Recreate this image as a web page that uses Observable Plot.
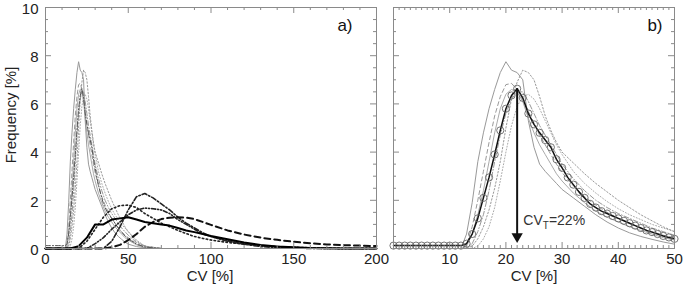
<!DOCTYPE html>
<html><head><meta charset="utf-8">
<script src="https://cdn.jsdelivr.net/npm/d3@7"></script>
<script src="https://cdn.jsdelivr.net/npm/@observablehq/plot@0.6"></script>
<style>
body{margin:0;background:#fff;}
#wrap{position:relative;width:685px;height:286px;font-family:"Liberation Sans",Arial,sans-serif;overflow:hidden;}
#wrap svg{position:absolute;top:0;}
.lab{position:absolute;font-size:15px;color:#222;white-space:nowrap;line-height:1;}
</style></head><body><div id="wrap"></div>
<script>
// ---------- data ----------
// grid of CV values (%) for the narrow-peak (gray) group
const gridG = [0,10,12,13,14,15,16,17,18,19,20,21,22,23,24,25,26,27,28,29,30,32,34,36,38,40,42,44,46,48,50,55,60,70];
const graySolidA  = [0,0,0,0.6,1.9,3.6,4.8,5.8,6.6,7.3,7.75,7.4,7.3,7.0,5.3,4.2,3.5,3.2,2.95,2.7,2.45,2.1,1.75,1.4,1.1,0.85,0.65,0.5,0.38,0.27,0.18,0.08,0.03,0];
const grayDottedB = [0,0,0,0,0.1,0.4,0.9,1.6,2.5,3.6,5.0,6.2,6.9,7.4,7.3,7.0,6.3,5.5,4.9,4.4,4.0,3.55,3.1,2.7,2.35,2.0,1.7,1.4,1.15,0.9,0.7,0.3,0.1,0];
const grayDashedC = [0,0,0,0.15,0.9,2.0,3.2,4.4,5.5,6.3,6.8,6.85,6.6,6.2,5.7,5.2,4.7,4.3,3.9,3.5,3.15,2.6,2.15,1.8,1.5,1.25,1.05,0.85,0.7,0.55,0.45,0.2,0.08,0];
const grayDashDotD = [0,0,0,0,0.2,0.7,1.4,2.4,3.6,4.7,5.6,6.2,6.5,6.5,6.1,5.6,5.1,4.7,4.3,3.9,3.5,2.9,2.4,2.0,1.7,1.45,1.25,1.05,0.85,0.7,0.55,0.25,0.1,0];
const grayDottedE = [0,0,0,0,0,0.1,0.4,0.9,1.7,2.8,4.0,5.1,5.9,6.3,6.4,6.2,5.8,5.3,4.8,4.3,3.9,3.2,2.7,2.3,1.95,1.65,1.4,1.2,1.0,0.85,0.7,0.35,0.1,0];
const graySolidF  = [0,0,0,0.1,0.6,1.4,2.4,3.6,4.8,5.8,6.4,6.6,6.5,6.1,5.4,4.8,4.3,3.9,3.5,3.1,2.8,2.3,1.9,1.55,1.3,1.1,0.9,0.75,0.6,0.45,0.35,0.15,0.05,0];

// mean distribution (black line with circles in b)
const meanX = [0,1,2,3,4,5,6,7,8,9,10,11,12,13,14,15,16,17,18,19,20,21,22,23,24,25,26,27,28,29,30,31,32,33,34,35,36,37,38,39,40,41,42,43,44,45,46,47,48,49,50,55,60,70];
const meanY = [0.12,0.12,0.12,0.12,0.12,0.12,0.12,0.12,0.12,0.12,0.12,0.12,0.12,0.2,0.6,1.25,2.1,2.95,3.9,4.9,5.8,6.35,6.63,6.25,5.6,5.15,4.8,4.5,4.2,3.7,3.35,2.95,2.65,2.35,2.1,1.85,1.7,1.55,1.45,1.35,1.25,1.15,1.05,0.95,0.85,0.75,0.68,0.6,0.52,0.46,0.4,0.18,0.06,0];

// broad distributions (panel a)
const gridA = [0,10,15,20,25,30,35,40,45,50,55,60,65,70,75,80,85,90,95,100,110,120,130,140,150,160,170,180,190,200];
const blackSolid   = [0,0,0,0.1,0.45,1.0,1.0,1.2,1.25,1.3,1.2,1.1,1.05,1.0,0.95,0.85,0.75,0.68,0.6,0.52,0.38,0.25,0.15,0.08,0.05,0.02,0.01,0,0,0];
const blackDashDot = [0,0,0,0,0,0,0,0.3,0.9,1.6,2.15,2.28,2.1,1.85,1.6,1.3,1.05,0.85,0.65,0.5,0.3,0.18,0.08,0.04,0.02,0,0,0,0,0];
const blackDashDotDot = [0,0,0,0,0,0.2,0.45,0.8,1.1,1.4,1.6,1.68,1.65,1.6,1.45,1.2,1.0,0.8,0.6,0.5,0.32,0.2,0.12,0.07,0.04,0.02,0,0,0,0];
const blackDotted  = [0,0,0,0,0.3,0.8,1.3,1.65,1.78,1.8,1.7,1.45,1.25,1.05,0.9,0.75,0.62,0.5,0.42,0.35,0.25,0.18,0.12,0.08,0.05,0.03,0.02,0,0,0];
const blackDashed  = [0,0,0,0,0,0,0,0.05,0.15,0.35,0.6,0.9,1.1,1.22,1.28,1.3,1.28,1.22,1.1,0.98,0.75,0.58,0.45,0.36,0.28,0.22,0.17,0.14,0.12,0.1];

// axes / annotation
const yMajor = [0,2,4,6,8,10];
const yMinor = [0.5,1,1.5,2.5,3,3.5,4.5,5,5.5,6.5,7,7.5,8.5,9,9.5];
const xMajorA = [0,50,100,150,200];
const xMinorA = [10,20,30,40,60,70,80,90,110,120,130,140,160,170,180,190];
const xMajorB = [0,10,20,30,40,50];
const xLabelsB = [10,20,30,40,50];
const xMinorB = d3.range(1,50).filter(d => d % 10 !== 0);
const cvT = [22];
const arrowTip = [0.5];
const cvTLabel = {x: 23.1, y: 1.15, text: "CVT=22%"};

// ---------- helpers ----------
const rows = (xs, ys) => xs.map((x, i) => ({cv: x, v: ys[i]}));
const H = 286, MT = 7, MB = 38;
const innerH = H - MT - MB;
const FONT = "'Liberation Sans', Arial, Helvetica, sans-serif";

function tickMarks(xMaj, xMin, innerW) {
  const c = "#8a8a8a";
  return [
    Plot.tickX(xMaj, {x: d => d, insetTop: innerH - 6, stroke: c}),
    Plot.tickX(xMaj, {x: d => d, insetBottom: innerH - 6, stroke: c}),
    Plot.tickX(xMin, {x: d => d, insetTop: innerH - 3, stroke: c}),
    Plot.tickX(xMin, {x: d => d, insetBottom: innerH - 3, stroke: c}),
    Plot.tickY(yMajor, {y: d => d, insetRight: innerW - 6, stroke: c}),
    Plot.tickY(yMajor, {y: d => d, insetLeft: innerW - 6, stroke: c}),
    Plot.tickY(yMinor, {y: d => d, insetRight: innerW - 3, stroke: c}),
    Plot.tickY(yMinor, {y: d => d, insetLeft: innerW - 3, stroke: c}),
    Plot.frame({stroke: c, strokeWidth: 1})
  ];
}

function grayGroup(maxX, meanStyle) {
  const f = r => r.filter(d => d.cv <= maxX);
  return [
    Plot.line(f(rows(gridG, grayDottedE)), {x: "cv", y: "v", stroke: "#aaa", strokeWidth: 1, strokeDasharray: "1,2"}),
    Plot.line(f(rows(gridG, grayDashDotD)), {x: "cv", y: "v", stroke: "#999", strokeWidth: 1, strokeDasharray: "5,2,1,2"}),
    Plot.line(f(rows(gridG, grayDashedC)), {x: "cv", y: "v", stroke: "#999", strokeWidth: 1, strokeDasharray: "4,3"}),
    Plot.line(f(rows(gridG, graySolidF)), {x: "cv", y: "v", stroke: "#aaa", strokeWidth: 1}),
    Plot.line(f(rows(gridG, grayDottedB)), {x: "cv", y: "v", stroke: "#999", strokeWidth: 1, strokeDasharray: "1.5,2"}),
    Plot.line(f(rows(gridG, graySolidA)), {x: "cv", y: "v", stroke: "#999", strokeWidth: 1}),
    Plot.line(f(rows(meanX, meanY)), {x: "cv", y: "v", ...meanStyle})
  ];
}

// ---------- panel a ----------
const WA = 385, MLA = 45, MRA = 9;
const chartA = Plot.plot({
  width: WA, height: H, marginLeft: MLA, marginRight: MRA, marginTop: MT, marginBottom: MB,
  style: {fontFamily: FONT, background: "transparent", overflow: "visible"},
  x: {domain: [0, 200], axis: null},
  y: {domain: [0, 10], axis: null},
  marks: [
    ...grayGroup(200, {stroke: "#555", strokeWidth: 1, strokeDasharray: "5,2,1,2"}),
    Plot.line(rows(gridA, blackDotted), {x: "cv", y: "v", stroke: "#222", strokeWidth: 1.6, strokeDasharray: "1.5,2.5"}),
    Plot.line(rows(gridA, blackDashDotDot), {x: "cv", y: "v", stroke: "#222", strokeWidth: 1.6, strokeDasharray: "4,2,1,2,1,2"}),
    Plot.line(rows(gridA, blackDashDot), {x: "cv", y: "v", stroke: "#222", strokeWidth: 1.6, strokeDasharray: "5,2,1.5,2"}),
    Plot.line(rows(gridA, blackDashed), {x: "cv", y: "v", stroke: "#111", strokeWidth: 2, strokeDasharray: "6,4"}),
    Plot.line(rows(gridA, blackSolid), {x: "cv", y: "v", stroke: "#000", strokeWidth: 2}),
    ...tickMarks(xMajorA, xMinorA, WA - MLA - MRA),
    Plot.axisX(xMajorA, {tickSize: 0, tickPadding: 5, fontSize: 15, fill: "#222", label: null}),
    Plot.axisY(yMajor, {tickSize: 0, tickPadding: 7, fontSize: 15, fill: "#222", label: null, dy: 1.5}),
    Plot.text(["a)"], {frameAnchor: "top-right", dx: -24, dy: 11, textAnchor: "end", lineAnchor: "top", fontSize: 17, fill: "#111"})
  ]
});

// ---------- panel b ----------
const WB = 300, MLB = 8, MRB = 11;
const chartB = Plot.plot({
  width: WB, height: H, marginLeft: MLB, marginRight: MRB, marginTop: MT, marginBottom: MB,
  style: {fontFamily: FONT, background: "transparent", overflow: "visible"},
  x: {domain: [0, 50], axis: null},
  y: {domain: [0, 10], axis: null},
  marks: [
    ...grayGroup(50, {stroke: "#111", strokeWidth: 1.5}),
    Plot.dot(rows(meanX, meanY).filter(d => d.cv <= 50), {x: "cv", y: "v", r: 3.6, stroke: "#666", strokeWidth: 0.9, fill: "none"}),
    Plot.ruleX(cvT, {x: d => d, y1: d => meanY[meanX.indexOf(d)], y2: arrowTip[0], stroke: "#111", strokeWidth: 2}),
    Plot.dot(cvT, {x: d => d, y: arrowTip[0], symbol: "triangle", rotate: 180, r: 4.2, fill: "#111", stroke: "none"}),
    Plot.text([cvTLabel], {x: "x", y: "y", text: "text", textAnchor: "start", fontSize: 14, fill: "#333"}),
    ...tickMarks(xMajorB, xMinorB, WB - MLB - MRB),
    Plot.axisX(xLabelsB, {tickSize: 0, tickPadding: 5, fontSize: 15, fill: "#222", label: null}),
    Plot.text(["b)"], {frameAnchor: "top-right", dx: -12, dy: 11, textAnchor: "end", lineAnchor: "top", fontSize: 17, fill: "#111"})
  ]
});

// subscript T in the annotation
d3.select(chartB).selectAll("text").filter(function() { return this.textContent === "CVT=22%"; })
  .each(function() {
    const t = d3.select(this);
    t.text(null);
    t.append("tspan").text("CV");
    t.append("tspan").attr("font-size", 10).attr("dy", 4).text("T");
    t.append("tspan").attr("dy", -4).text("=22%");
  });

const wrap = document.getElementById("wrap");
chartA.style.left = "0px";
chartB.style.left = WA + "px";
wrap.appendChild(chartA);
wrap.appendChild(chartB);

function addLabel(txt, left, top, rot) {
  const d = document.createElement("div");
  d.className = "lab";
  d.textContent = txt;
  d.style.left = left + "px";
  d.style.top = top + "px";
  d.style.transform = "translate(-50%,-50%)" + (rot ? " rotate(-90deg)" : "");
  wrap.appendChild(d);
}
addLabel("Frequency [%]", 10, 115, true);
addLabel("CV [%]", 210, 275, false);
addLabel("CV [%]", 534, 275, false);
</script>
</body></html>
